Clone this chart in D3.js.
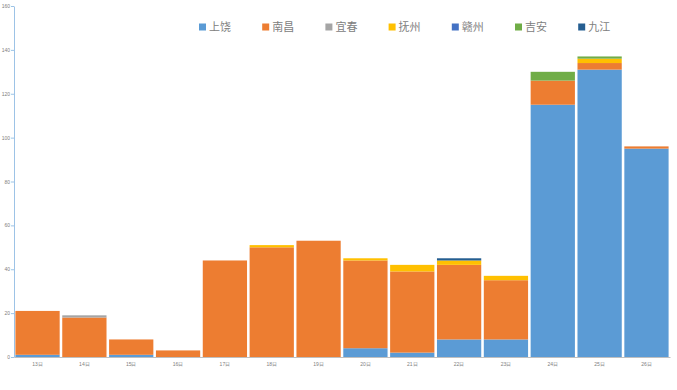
<!DOCTYPE html>
<html>
<head>
<meta charset="utf-8">
<script src="https://cdn.jsdelivr.net/npm/d3@7"></script>
<style>
	body { margin: 0; background: #fff; }
	svg { display: block; font-family: "Noto Sans CJK SC", "DejaVu Sans", sans-serif; }
</style>
</head>
<body>
<div id="chart"></div>
<script>
//chart data
var days = ['13日','14日','15日','16日','17日','18日','19日','20日','21日','22日','23日','24日','25日','26日'];
var cities = ['上饶','南昌','宜春','抚州','赣州','吉安','九江'];
var colors = ['#5B9BD5','#ED7D31','#A5A5A5','#FFC000','#4472C4','#70AD47','#255E91'];

var shangrao = [1, 0, 1, 0, 0, 0, 0, 4, 2, 8, 8, 115, 131, 95];
var nanchang = [20, 18, 7, 3, 44, 50, 53, 40, 37, 34, 27, 11, 3, 1];
var yichun   = [0, 1, 0, 0, 0, 0, 0, 0, 0, 0, 0, 0, 0, 0];
var fuzhou   = [0, 0, 0, 0, 0, 1, 0, 1, 3, 2, 2, 0, 2, 0];
var ganzhou  = [0, 0, 0, 0, 0, 0, 0, 0, 0, 0, 0, 0, 0, 0];
var jian     = [0, 0, 0, 0, 0, 0, 0, 0, 0, 0, 0, 4, 1, 0];
var jiujiang = [0, 0, 0, 0, 0, 0, 0, 0, 0, 1, 0, 0, 0, 0];

var yTicks = [0, 20, 40, 60, 80, 100, 120, 140, 160];

var series = [shangrao, nanchang, yichun, fuzhou, ganzhou, jian, jiujiang];

//build rows for the stack
var rows = days.map(function(d, i){
	var row = { day: d };
	cities.forEach(function(c, j){ row[c] = series[j][i]; });
	return row;
});

//define dimensions
var width = 677, height = 390;
var margin = { top: 6, right: 7, bottom: 33, left: 14 };

var svg = d3.select('#chart').append('svg')
	.attr('width', width)
	.attr('height', height);

var x = d3.scaleBand()
	.domain(days)
	.range([margin.left, width - margin.right])
	.paddingInner(0.055)
	.paddingOuter(0.03);

var y = d3.scaleLinear()
	.domain([0, 160])
	.range([height - margin.bottom, margin.top]);

var stacked = d3.stack().keys(cities)(rows);

//bars
svg.append('g').selectAll('g')
	.data(stacked)
	.enter().append('g')
	.attr('fill', function(d, i){ return colors[i]; })
	.selectAll('rect')
	.data(function(d){ return d; })
	.enter().append('rect')
	.attr('x', function(d){ return x(d.data.day); })
	.attr('width', x.bandwidth())
	.attr('y', function(d){ return y(d[1]); })
	.attr('height', function(d){ return y(d[0]) - y(d[1]); });

//y axis
var yAxis = svg.append('g')
	.attr('transform', 'translate(' + margin.left + ',0)')
	.call(d3.axisLeft(y).tickValues(yTicks).tickSize(3).tickSizeOuter(0));
yAxis.select('.domain').attr('stroke', '#9DC3E6');
yAxis.selectAll('.tick line').attr('stroke', '#9DC3E6');
yAxis.selectAll('.tick text').attr('fill', '#808080').attr('font-size', 5).attr('x', -4);

//x axis
var xAxis = svg.append('g')
	.attr('transform', 'translate(0,' + (height - margin.bottom) + ')')
	.call(d3.axisBottom(x).tickSize(0).tickSizeOuter(0));
xAxis.select('.domain').attr('stroke', '#BFBFBF');
xAxis.selectAll('.tick text').attr('fill', '#808080').attr('font-size', 5).attr('dy', 6);

//legend
var legend = svg.append('g').attr('transform', 'translate(199,27)');
var item = legend.selectAll('g')
	.data(cities)
	.enter().append('g')
	.attr('transform', function(d, i){ return 'translate(' + (i * 63.2) + ',0)'; });
item.append('rect')
	.attr('x', 0).attr('y', -3.5)
	.attr('width', 7).attr('height', 7)
	.attr('fill', function(d, i){ return colors[i]; });
item.append('text')
	.attr('x', 10).attr('y', 0)
	.attr('dy', '0.36em')
	.attr('font-size', 11)
	.attr('fill', '#808080')
	.text(function(d){ return d; });
</script>
</body>
</html>
